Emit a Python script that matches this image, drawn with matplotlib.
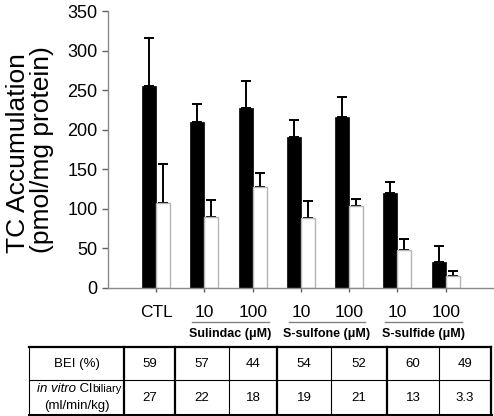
import numpy as np
import matplotlib
matplotlib.use("Agg")
import matplotlib.pyplot as plt
from matplotlib.lines import Line2D
from matplotlib.transforms import blended_transform_factory

plt.rcParams['font.family'] = ['Liberation Sans', 'DejaVu Sans']

# data
tick_labels = ['CTL', '10', '100', '10', '100', '10', '100']
black_vals = [255, 210, 227, 191, 216, 120, 33]
black_err = [61, 22, 34, 21, 25, 14, 20]
white_vals = [108, 90, 128, 88, 104, 48, 15]
white_err = [49, 21, 17, 22, 8, 14, 7]
groups = ['Sulindac (\u03bcM)', 'S-sulfone (\u03bcM)', 'S-sulfide (\u03bcM)']
group_pos = [(2, 3), (4, 5), (6, 7)]
bei = ['59', '57', '44', '54', '52', '60', '49']
cl_biliary = ['27', '22', '18', '19', '21', '13', '3.3']

W, H = 494, 416
fig = plt.figure(figsize=(W / 100, H / 100), dpi=100)
ax = fig.add_axes([107.8 / W, 1 - 288 / H, (494 - 107.8) / W, 277 / H])

x = np.arange(1, len(tick_labels) + 1)
bw = 0.29
ax.bar(x - bw / 2, black_vals, bw, color='black', edgecolor='black', lw=0.5, zorder=2)
ax.bar(x + bw / 2, white_vals, bw, color='white', edgecolor='#b5b5b5', lw=1, zorder=2)
ax.errorbar(x - bw / 2, black_vals, yerr=[np.zeros(len(x)), black_err], fmt='none',
            ecolor='black', elinewidth=1.4, capsize=3.8, capthick=1.4, zorder=1)
ax.errorbar(x + bw / 2, white_vals, yerr=[np.zeros(len(x)), white_err], fmt='none',
            ecolor='black', elinewidth=1.4, capsize=3.8, capthick=1.4, zorder=1)

ax.set_xlim(0, 8)
ax.set_ylim(0, 350)
ax.set_yticks(range(0, 351, 50))
ax.set_xticks(x)
ax.set_xticklabels(tick_labels)
for s in ['top', 'right']:
    ax.spines[s].set_visible(False)
for s in ['left', 'bottom']:
    ax.spines[s].set_color('#8a8a8a')
    ax.spines[s].set_linewidth(1)
ax.tick_params(axis='y', length=4.5, width=1, color='#606060', labelsize=13, pad=3)
ax.tick_params(axis='x', length=3, width=1, color='#606060', labelsize=12.5, pad=9)

# y label, two lines
fig.text(18 / W, 1 - 153 / H, 'TC Accumulation', rotation=90, ha='center', va='center', fontsize=19)
fig.text(42 / W, 1 - 150 / H, '(pmol/mg protein)', rotation=90, ha='center', va='center', fontsize=19)

# group underlines and labels
tr = blended_transform_factory(ax.transData, fig.transFigure)
for name, (a, b) in zip(groups, group_pos):
    x0, x1 = a - 0.25, b + 0.33
    fig.add_artist(Line2D([x0, x1], [1 - 322 / H] * 2, transform=tr, color='#808080', lw=1))
    fig.text((x0 + x1) / 2, 1 - 334 / H, name, transform=tr, ha='center', va='center',
             fontsize=9, fontweight='bold')

# table below the chart
col_edges = [29, 124, 175, 229, 277, 331, 387, 439, 491]
thick_cols = {124, 175, 277, 387, 491}
top, mid, bot = 346.5, 380, 414.5


def fx(px):
    return px / W


def fy(py):
    return 1 - py / H


for c in col_edges:
    lw = 1.6 if c in thick_cols else 0.8
    fig.add_artist(Line2D([fx(c)] * 2, [fy(top), fy(bot)], transform=fig.transFigure,
                          color='black', lw=lw))
fig.add_artist(Line2D([fx(col_edges[0]), fx(col_edges[-1])], [fy(top)] * 2,
                      transform=fig.transFigure, color='black', lw=1.6))
fig.add_artist(Line2D([fx(col_edges[0]), fx(col_edges[-1])], [fy(mid)] * 2,
                      transform=fig.transFigure, color='black', lw=0.8))
fig.add_artist(Line2D([fx(col_edges[0]), fx(col_edges[-1])], [fy(bot)] * 2,
                      transform=fig.transFigure, color='black', lw=2.2))

fig.text(fx(76.5), fy(364), 'BEI (%)', ha='center', va='center', fontsize=9.5)
t1 = fig.text(fx(37), fy(389), 'in vitro', ha='left', va='center', fontsize=9.5, style='italic')
t2 = ax.annotate(' Cl', xy=(1, 0), xycoords=t1, ha='left', va='bottom', fontsize=9.5)
t3 = ax.annotate('biliary', xy=(1, 0), xycoords=t2, xytext=(0, 0.5), textcoords='offset points',
                 ha='left', va='bottom', fontsize=8)
fig.text(fx(76.5), fy(406), '(ml/min/kg)', ha='center', va='center', fontsize=9.5)

for i in range(len(bei)):
    cx = (col_edges[i + 1] + col_edges[i + 2]) / 2
    fig.text(fx(cx), fy(364), bei[i], ha='center', va='center', fontsize=9.5)
    fig.text(fx(cx), fy(398), cl_biliary[i], ha='center', va='center', fontsize=9.5)

fig.savefig('out.png', dpi=100)
